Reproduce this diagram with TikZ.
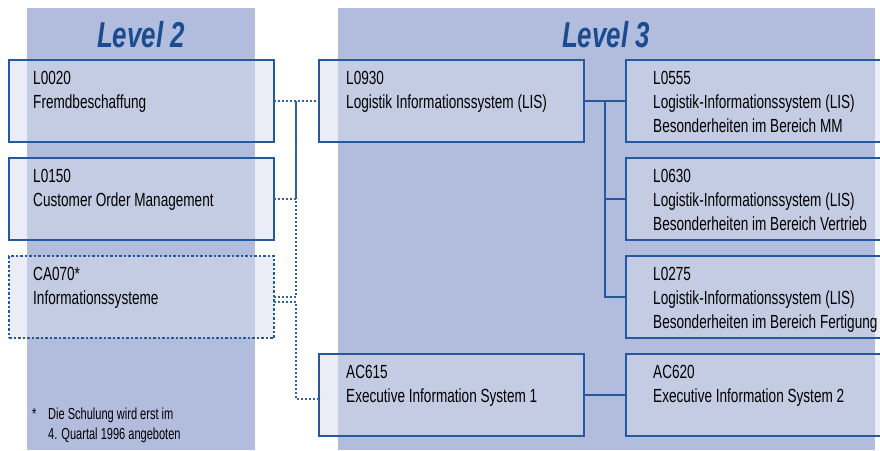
\documentclass[tikz,border=0pt]{standalone}
\usepackage{fontspec}
\setmainfont{Liberation Sans}[FakeStretch=0.715]
\newfontfamily\fnfont{Liberation Sans}[FakeStretch=0.69]
\newfontfamily\titlefont{Liberation Sans}[FakeStretch=0.72]
\definecolor{bandc}{HTML}{B2BCDC}
\definecolor{boxfill}{HTML}{D6DCED}
\definecolor{edge}{HTML}{2459A0}
\definecolor{ttlc}{HTML}{1B4B91}
\definecolor{conn}{HTML}{2F62A6}
\tikzset{
  box/.style={draw=edge, line width=1.4pt, fill=boxfill, fill opacity=0.5,
    minimum width=265pt, minimum height=82pt, inner sep=0pt, outer sep=0pt, anchor=north west},
  widebox/.style={box, minimum width=290pt},
  dbox/.style={box, dash pattern=on 2.5pt off 2pt},
  txt/.style={anchor=north west, inner sep=0pt, align=left, text=black,
    font=\fontsize{19}{24}\selectfont},
  fntxt/.style={anchor=north west, inner sep=0pt, align=left, text=black,
    font=\fnfont\fontsize{16}{19.5}\selectfont},
  ttl/.style={font=\titlefont\bfseries\itshape\fontsize{36}{36}\selectfont, text=ttlc, inner sep=0pt},
  dotc/.style={draw=conn, line width=1.3pt, dash pattern=on 2pt off 2pt},
  solc/.style={draw=edge, line width=1.3pt}
}
\begin{document}
\begin{tikzpicture}[x=1pt,y=-1pt]
\useasboundingbox (0,0) rectangle (880,450);
\clip (0,0) rectangle (880,450);
% bands
\fill[bandc] (27,8) rectangle (255,450);
\fill[bandc] (338,8) rectangle (875,450);
\node[ttl] (t2) at (141,35) {Level 2};
\node[ttl] (t3) at (606,35) {Level 3};
% boxes
\node[box] (l0020) at (9,60) {};
\node[box] (l0150) at (9,158) {};
\node[dbox] (ca070) at (9,256) {};
\node[box] (l0930) at (319,60) {};
\node[widebox] (l0555) at (626,60) {};
\node[widebox] (l0630) at (626,158) {};
\node[widebox] (l0275) at (626,256) {};
\node[box] (ac615) at (319,354) {};
\node[widebox] (ac620) at (626,354) {};
% texts
\node[txt] (l0020t) at ([xshift=24pt,yshift=-11.5pt]l0020.north west) {L0020\\Fremdbeschaffung};
\node[txt] (l0150t) at ([xshift=24pt,yshift=-11.5pt]l0150.north west) {L0150\\Customer Order Management};
\node[txt] (ca070t) at ([xshift=24pt,yshift=-11.5pt]ca070.north west) {CA070*\\Informationssysteme};
\node[txt] (l0930t) at ([xshift=27pt,yshift=-11.5pt]l0930.north west) {L0930\\Logistik Informationssystem (LIS)};
\node[txt] (l0555t) at ([xshift=27pt,yshift=-11.5pt]l0555.north west) {L0555\\Logistik-Informationssystem (LIS)\\Besonderheiten im Bereich MM};
\node[txt] (l0630t) at ([xshift=27pt,yshift=-11.5pt]l0630.north west) {L0630\\Logistik-Informationssystem (LIS)\\Besonderheiten im Bereich Vertrieb};
\node[txt] (l0275t) at ([xshift=27pt,yshift=-11.5pt]l0275.north west) {L0275\\Logistik-Informationssystem (LIS)\\Besonderheiten im Bereich Fertigung};
\node[txt] (ac615t) at ([xshift=27pt,yshift=-11.5pt]ac615.north west) {AC615\\Executive Information System 1};
\node[txt] (ac620t) at ([xshift=27pt,yshift=-11.5pt]ac620.north west) {AC620\\Executive Information System 2};
% footnote
\node[fntxt] (fn) at (32,408) {\makebox[16pt][l]{*}Die Schulung wird erst im\\\hspace*{16pt}4. Quartal 1996 angeboten};
% connectors
\coordinate (j1) at (296,101);
\coordinate (j2) at (296,399);
\draw[dotc] (l0020.east) -- (l0930.west);
\draw[dotc] (l0150.east) -| (j1);
\draw[dotc] (ca070.east) -| (j1);
\draw[dotc] ([yshift=-5pt]ca070.east) -| (j2) -- (j2 -| ac615.west);
\coordinate (tj) at (605,101);
\draw[solc] (l0930.east) -- (l0555.west);
\draw[solc] (tj) |- (l0630.west);
\draw[solc] (tj) |- (l0275.west);
\draw[solc] (ac615.east) -- (ac620.west);
\end{tikzpicture}
\end{document}
